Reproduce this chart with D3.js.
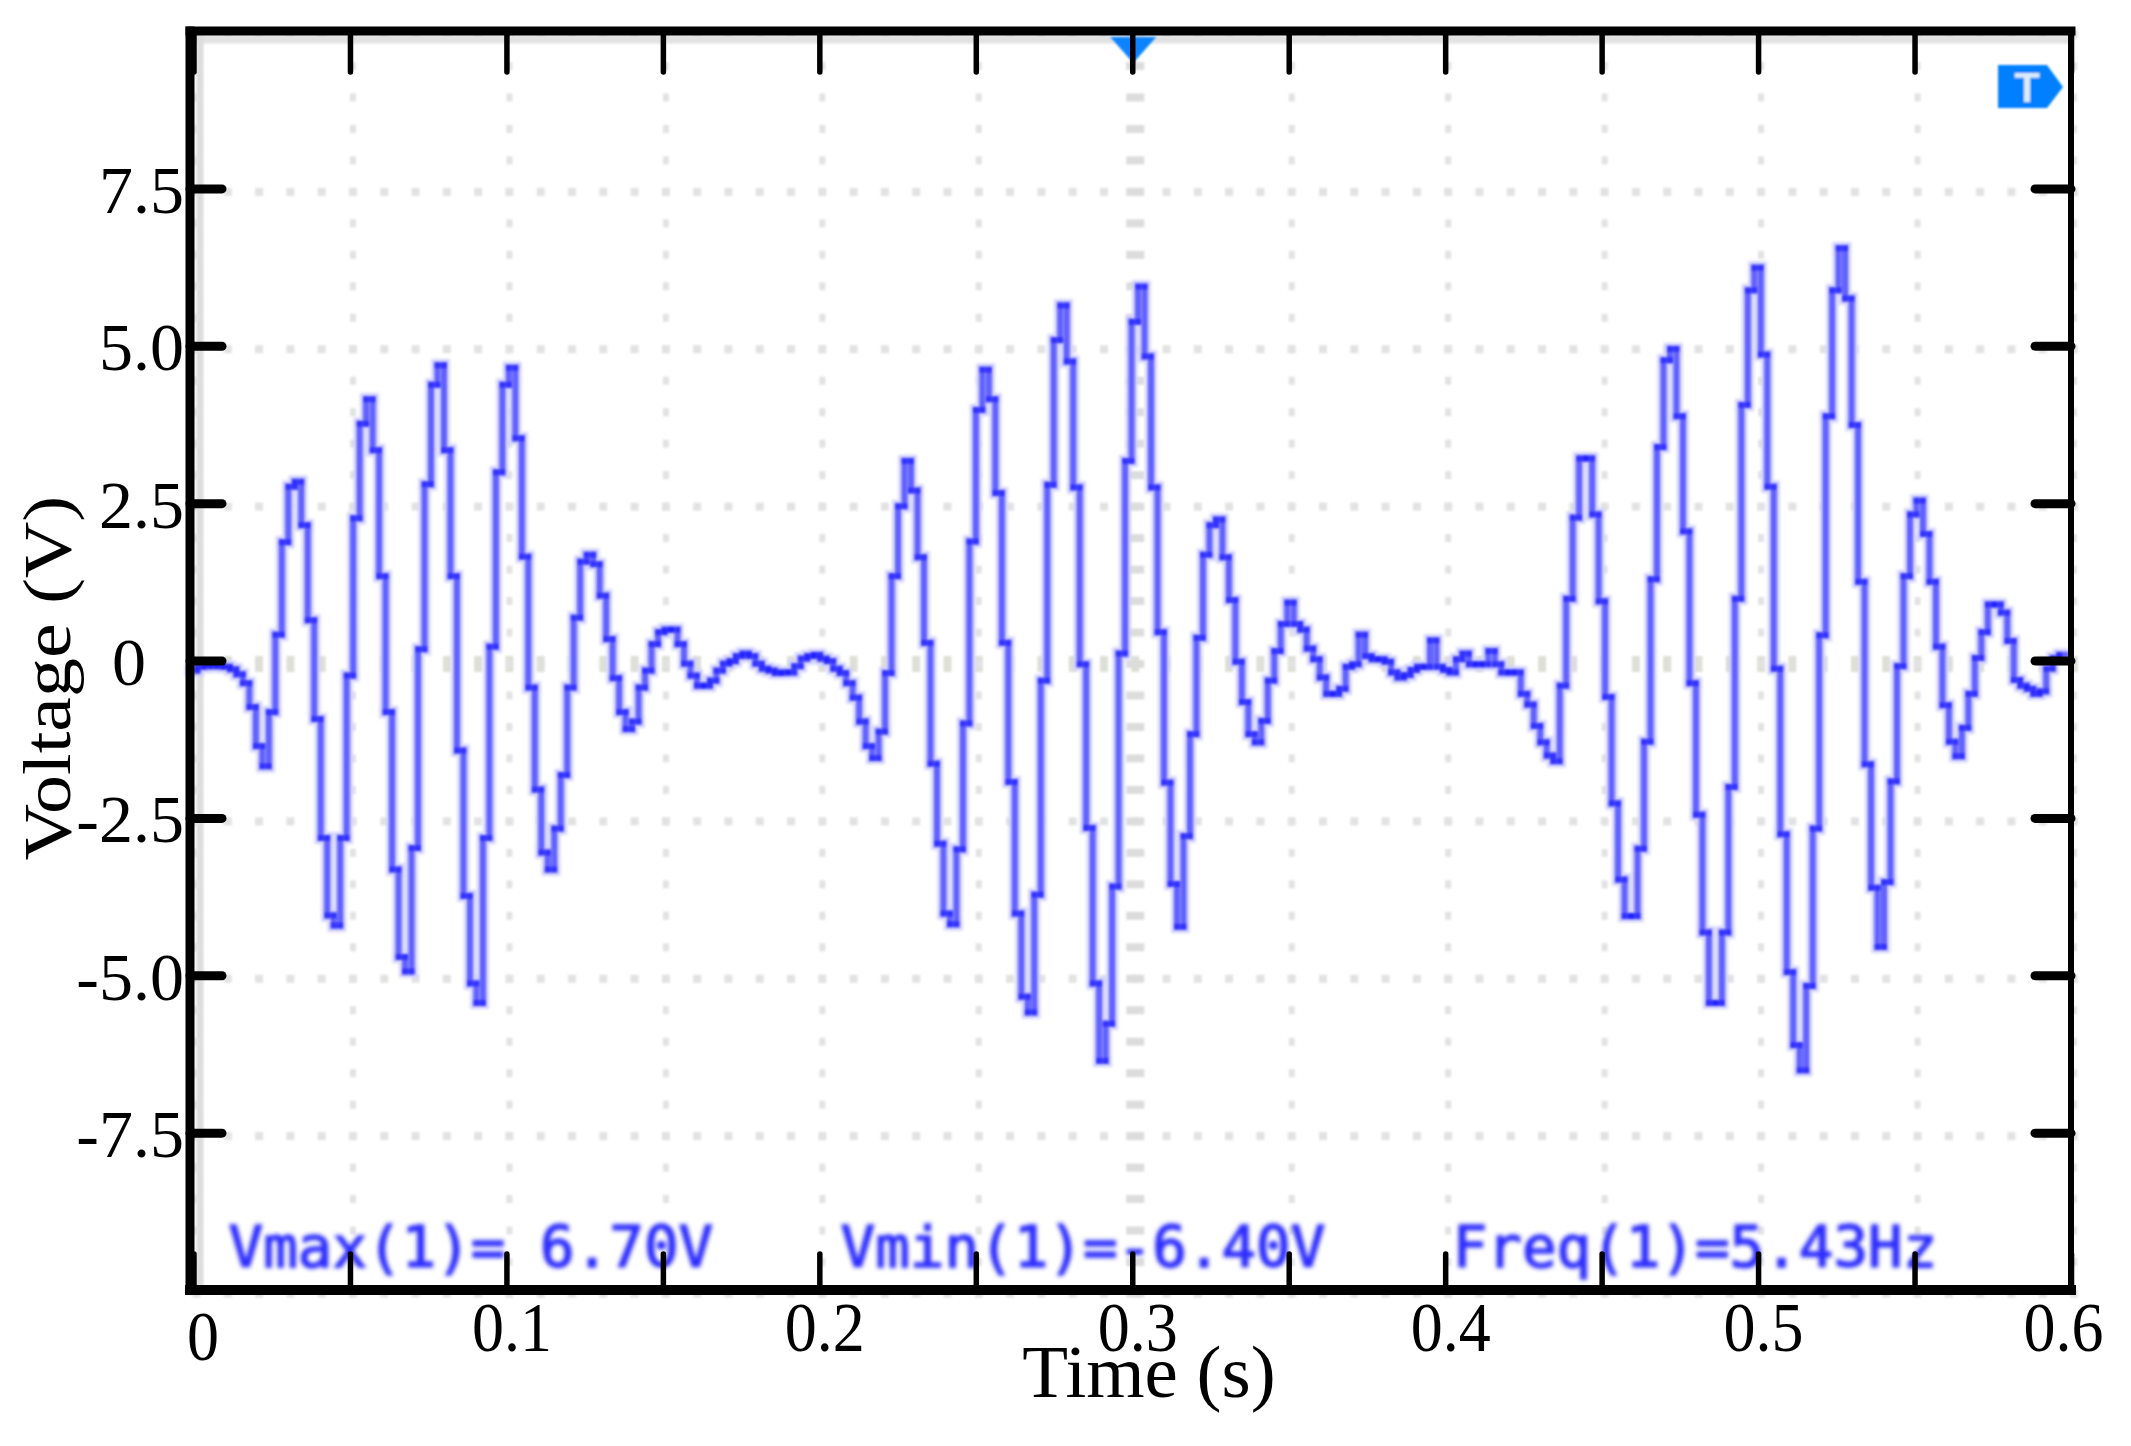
<!DOCTYPE html>
<html>
<head>
<meta charset="utf-8">
<script src="https://cdn.jsdelivr.net/npm/d3@7"></script>
<style>
  html, body { margin: 0; background: #fff; }
  svg { display: block; }
</style>
</head>
<body>
<svg id="chart" width="2131" height="1446"></svg>
<script>
// Data
const xTicks  = [0, 0.05, 0.1, 0.15, 0.2, 0.25, 0.3, 0.35, 0.4, 0.45, 0.5, 0.55, 0.6];
const xLabels = ["0", "", "0.1", "", "0.2", "", "0.3", "", "0.4", "", "0.5", "", "0.6"];
const yTicks  = [7.5, 5, 2.5, 0, -2.5, -5, -7.5];
const yLabels = ["7.5", "5.0", "2.5", "0", "-2.5", "-5.0", "-7.5"];
const readouts = ["Vmax(1)= 6.70V", "Vmin(1)=-6.40V", "Freq(1)=5.43Hz"];
const readoutTimes = [0.0112, 0.2068, 0.4024];

// Scope samples, one every sampleDt seconds, held until the next one
const sampleStart = -0.0008;
const sampleDt = 0.002073;
const volts = [
  -0.16,-0.10,-0.09,-0.09,-0.09,-0.10,-0.14,-0.22,-0.36,-0.74,-1.36,-1.68,
  -0.82,0.41,1.88,2.76,2.84,2.15,0.64,-0.93,-2.82,-4.05,-4.21,-2.82,-0.24,2.26,3.76,4.15,
  3.34,1.34,-0.82,-3.32,-4.71,-4.94,-2.98,0.18,2.80,4.38,4.69,3.34,1.34,-1.43,-3.74,-5.13,
  -5.44,-2.82,0.22,2.99,4.38,4.65,3.53,1.65,-0.43,-2.05,-3.05,-3.32,-2.67,-1.82,-0.43,0.68,
  1.57,1.68,1.53,1.03,0.34,-0.28,-0.82,-1.09,-0.97,-0.43,-0.16,0.26,0.45,0.49,0.49,0.26,
  -0.05,-0.24,-0.40,-0.40,-0.32,-0.16,-0.05,-0.01,0.07,0.11,0.07,-0.05,-0.13,-0.16,-0.20,-0.19,
  -0.19,-0.09,0.03,0.07,0.09,0.03,-0.01,-0.13,-0.20,-0.36,-0.59,-0.97,-1.36,-1.55,-1.13,-0.20,
  1.34,2.45,3.17,2.70,1.64,0.28,-1.64,-2.91,-4.02,-4.19,-3.00,-1.00,1.89,3.98,4.62,4.15,
  2.66,0.28,-1.93,-4.02,-5.34,-5.59,-3.72,-0.32,2.79,5.09,5.64,4.75,2.75,-0.06,-2.66,-5.13,
  -6.36,-5.77,-3.59,0.11,3.17,5.38,5.94,4.83,2.75,0.45,-1.94,-3.55,-4.23,-2.79,-1.17,0.36,
  1.68,2.15,2.24,1.64,0.96,-0.02,-0.66,-1.17,-1.30,-0.96,-0.32,0.15,0.58,0.92,0.58,0.49,
  0.19,0.02,-0.27,-0.53,-0.53,-0.45,-0.10,-0.06,0.41,0.07,0.02,0.02,-0.02,-0.19,-0.27,-0.23,
  -0.15,-0.10,-0.10,0.32,-0.10,-0.15,-0.19,0.02,0.11,-0.06,-0.06,-0.06,0.15,-0.06,-0.19,-0.19,
  -0.19,-0.53,-0.70,-1.04,-1.30,-1.51,
  -1.60,-0.40,0.98,2.27,3.21,3.21,2.32,0.94,-0.58,-2.27,-3.48,-4.06,-4.06,-2.99,-1.29,1.29,
  3.39,4.77,4.95,3.88,2.05,-0.36,-2.45,-4.32,-5.44,-5.44,-4.32,-2.01,0.98,4.06,5.88,6.24,
  4.86,2.76,-0.13,-2.76,-4.95,-6.11,-6.51,-5.17,-2.67,0.40,3.88,5.88,6.55,5.75,3.74,1.25,
  -1.65,-3.61,-4.55,-3.52,-1.92,-0.09,1.34,2.32,2.54,2.01,1.25,0.22,-0.71,-1.29,-1.52,-1.07,
  -0.53,0.04,0.45,0.89,0.89,0.76,0.31,-0.31,-0.40,-0.45,-0.53,-0.49,-0.13,0.04,0.09
];

// Chart setup
const W = 2131, H = 1446;
const SERIF = "'Liberation Serif','Times New Roman',serif";
const svg = d3.select("#chart");
const x = d3.scaleLinear().domain([0, 0.6]).range([193.5, 2071]);
const y = d3.scaleLinear().domain([-10, 10]).range([1290, 31]);

const defs = svg.append("defs");
[["blurS", 1.3], ["blurM", 1.8], ["blurText", 2]].forEach(([id, dev]) => {
  defs.append("filter").attr("id", id)
    .attr("x", "-5%").attr("y", "-5%").attr("width", "110%").attr("height", "110%")
    .attr("filterUnits", "objectBoundingBox")
    .append("feGaussianBlur").attr("stdDeviation", dev);
});

// Scope graticule
const gridG = svg.append("g").attr("transform", "translate(3,3.5)").attr("filter", "url(#blurS)");
gridG.append("rect")
  .attr("x", x(0) - 3).attr("y", y(10) + 1)
  .attr("width", x(0.6) - x(0)).attr("height", 8)
  .attr("fill", "#e2e2e2");
gridG.append("rect")
  .attr("x", x(0)).attr("y", y(10))
  .attr("width", 7).attr("height", y(-10) - y(10))
  .attr("fill", "#dddddd");

const gridT = d3.range(0, 61).map(d => d / 100);
const gridV = d3.range(-20, 21).map(d => d / 2);
const hLines = d3.range(-4, 5).map(d => d * 2.5);
const vLines = d3.range(0, 13).map(d => d * 0.05);

hLines.forEach(v => {
  gridG.append("g").selectAll("rect").data(gridT).join("rect")
    .attr("x", d => x(d) - 4)
    .attr("y", y(v) - (v === 0 ? 8 : 4))
    .attr("width", 8)
    .attr("height", v === 0 ? 16 : 8)
    .attr("fill", v === 0 ? "#dedfd6" : "#e2e2e2");
});
vLines.forEach(t => {
  const mid = Math.abs(t - 0.3) < 1e-6;
  gridG.append("g").selectAll("rect").data(gridV).join("rect")
    .attr("x", x(t) - (mid ? 9 : 3))
    .attr("y", d => y(d) - 4)
    .attr("width", mid ? 18 : 6)
    .attr("height", 8)
    .attr("fill", mid ? "#dcdcdc" : "#e2e2e2");
});

// Trigger markers
const markerG = svg.append("g").attr("filter", "url(#blurS)");
markerG.append("path")
  .attr("d", d3.line()([[x(0.3) - 22, 37], [x(0.3) + 24, 37], [x(0.3) + 1, 63]]))
  .attr("fill", "#0a84ff");
markerG.append("path")
  .attr("d", d3.line()([[x(0.6) - 73, 65], [x(0.6) - 24, 65], [x(0.6) - 8, 87], [x(0.6) - 24, 108], [x(0.6) - 73, 108]]))
  .attr("fill", "#0080ff");
markerG.append("text")
  .attr("x", x(0.6) - 44).attr("y", 102)
  .attr("text-anchor", "middle")
  .attr("font-family", "'Liberation Sans',sans-serif")
  .attr("font-weight", "bold")
  .attr("font-size", 42)
  .attr("fill", "#d8ecff")
  .text("T");

// Waveform
const segments = [];
volts.forEach((v, i) => {
  const t0 = sampleStart + i * sampleDt, t1 = t0 + sampleDt;
  segments.push({ x1: x(t0), x2: x(t1), y1: y(v), y2: y(v) });
  if (i < volts.length - 1) {
    segments.push({ x1: x(t1), x2: x(t1), y1: y(v), y2: y(volts[i + 1]) });
  }
});

const traceHalo = svg.append("g").attr("filter", "url(#blurM)");
traceHalo.selectAll("line").data(segments).join("line")
  .attr("x1", d => d.x1).attr("x2", d => d.x2)
  .attr("y1", d => d.y1).attr("y2", d => d.y2)
  .attr("stroke", "#cfcfff")
  .attr("stroke-width", 12)
  .attr("stroke-linecap", "square");

const traceG = svg.append("g").attr("filter", "url(#blurS)");
traceG.selectAll("line").data(segments).join("line")
  .attr("x1", d => d.x1).attr("x2", d => d.x2)
  .attr("y1", d => d.y1).attr("y2", d => d.y2)
  .attr("stroke", "#1a1aff")
  .attr("stroke-opacity", 0.62)
  .attr("stroke-width", 6)
  .attr("stroke-linecap", "square");

// Scope readouts
svg.append("g").attr("filter", "url(#blurText)")
  .selectAll("text").data(readouts).join("text")
  .attr("x", (d, i) => x(readoutTimes[i]))
  .attr("y", 1267)
  .attr("font-family", "'DejaVu Sans Mono',monospace")
  .attr("font-size", 57.5)
  .attr("fill", "#2a2aff")
  .attr("stroke", "#2a2aff")
  .attr("stroke-width", 1.5)
  .style("white-space", "pre")
  .text(d => d);

// Axes
const bottomAxis = svg.append("g").attr("transform", `translate(0,${y(-10)})`)
  .call(d3.axisBottom(x).tickValues(xTicks).tickSize(-36).tickFormat((d, i) => xLabels[i]));
const topAxis = svg.append("g").attr("transform", `translate(0,${y(10)})`)
  .call(d3.axisTop(x).tickValues(xTicks).tickSize(-41).tickFormat(""));
const leftAxis = svg.append("g").attr("transform", "translate(190,0)")
  .call(d3.axisLeft(y).tickValues(yTicks).tickSize(-32).tickPadding(6).tickFormat((d, i) => yLabels[i]));
const rightAxis = svg.append("g").attr("transform", `translate(${x(0.6)},0)`)
  .call(d3.axisRight(y).tickValues(yTicks).tickSize(-36).tickFormat(""));

[bottomAxis, topAxis, leftAxis, rightAxis].forEach(g => {
  g.select(".domain").remove();
  g.selectAll(".tick line").attr("stroke", "#000").attr("stroke-linecap", "round");
});
[bottomAxis, topAxis].forEach(g => g.selectAll(".tick line").attr("stroke-width", 5.5));
[leftAxis, rightAxis].forEach(g => g.selectAll(".tick line").attr("stroke-width", 9));

bottomAxis.selectAll("text")
  .attr("font-family", SERIF)
  .attr("font-size", 64)
  .attr("fill", "#000")
  .attr("dy", null)
  .attr("y", 0)
  .attr("transform", (d, i) => {
    const dx = i === 0 ? 9 : (i === 12 ? -8 : 5);
    const dy = i === 0 ? 70 : 61;
    return `translate(${dx},${dy}) scale(1,1.08)`;
  });

leftAxis.selectAll("text")
  .attr("font-family", SERIF)
  .attr("font-size", 68)
  .attr("fill", "#000")
  .attr("dy", 24)
  .attr("dx", (d, i) => yLabels[i] === "0" ? -38 : 0);

// Frame
const frame = svg.append("g").attr("stroke", "#000").attr("stroke-linecap", "square");
frame.append("line").attr("x1", 190).attr("x2", x(0.6)).attr("y1", y(10)).attr("y2", y(10)).attr("stroke-width", 9);
frame.append("line").attr("x1", 190).attr("x2", x(0.6)).attr("y1", y(-10)).attr("y2", y(-10)).attr("stroke-width", 10);
frame.append("line").attr("x1", 190).attr("x2", 190).attr("y1", y(10)).attr("y2", y(-10)).attr("stroke-width", 9);
frame.append("line").attr("x1", x(0.6)).attr("x2", x(0.6)).attr("y1", y(10)).attr("y2", y(-10)).attr("stroke-width", 6);

// Axis titles
svg.append("text")
  .attr("x", 1149).attr("y", 1397)
  .attr("text-anchor", "middle")
  .attr("font-family", SERIF).attr("font-size", 75).attr("fill", "#000")
  .text("Time (s)");
svg.append("text")
  .attr("transform", "translate(70,678) rotate(-90) scale(1,0.88)")
  .attr("text-anchor", "middle")
  .attr("font-family", SERIF).attr("font-size", 78).attr("fill", "#000")
  .text("Voltage (V)");
</script>
</body>
</html>
